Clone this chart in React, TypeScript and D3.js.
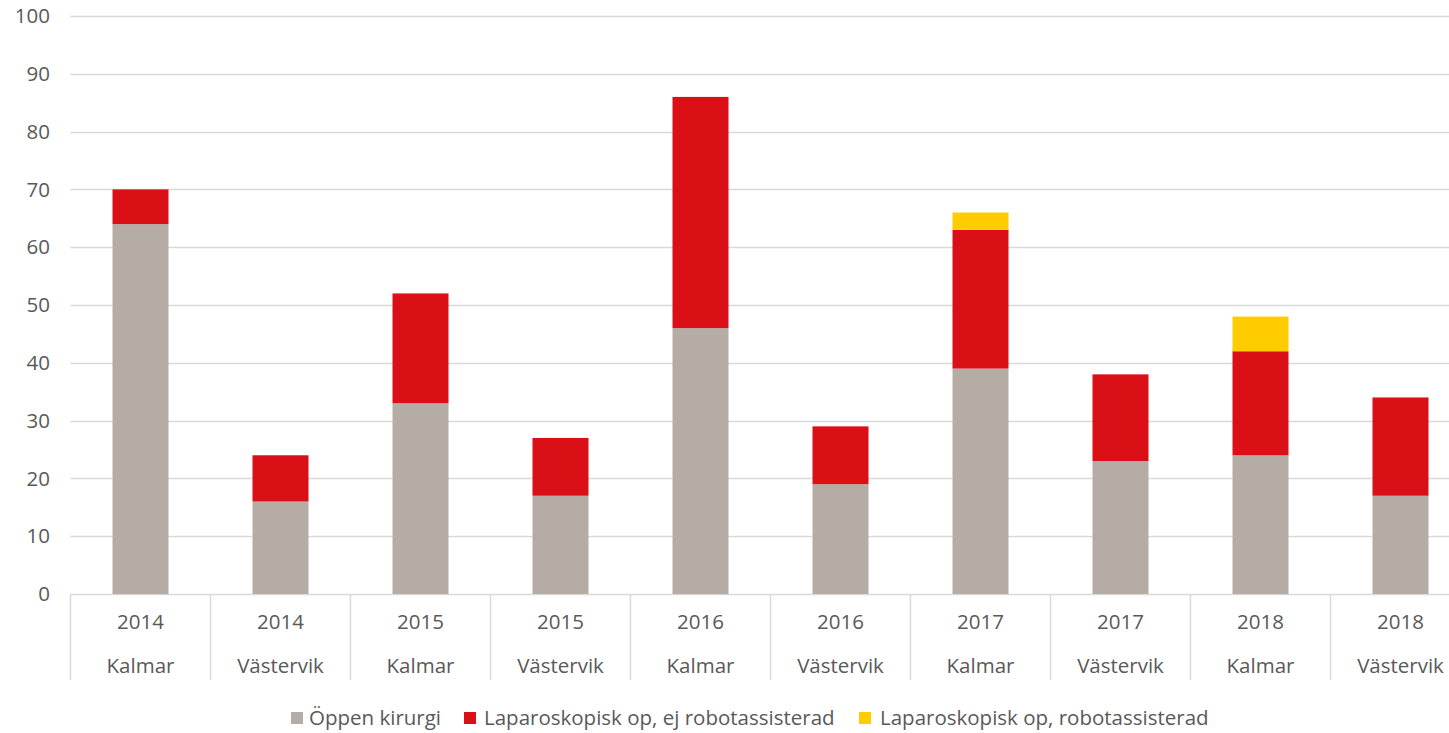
import React, { useEffect, useRef } from 'react';
import * as d3 from 'd3';

const years = ['2014', '2014', '2015', '2015', '2016', '2016', '2017', '2017', '2018', '2018'];
const sites = ['Kalmar', 'Västervik', 'Kalmar', 'Västervik', 'Kalmar', 'Västervik', 'Kalmar', 'Västervik', 'Kalmar', 'Västervik'];
const seriesNames = ['Öppen kirurgi', 'Laparoskopisk op, ej robotassisterad', 'Laparoskopisk op, robotassisterad'];
const oppen = [64, 16, 33, 17, 46, 19, 39, 23, 24, 17];
const lapEj = [6, 8, 19, 10, 40, 10, 24, 15, 18, 17];
const lapRobot = [0, 0, 0, 0, 0, 0, 3, 0, 6, 0];
const yTicks = [0, 10, 20, 30, 40, 50, 60, 70, 80, 90, 100];
const colors = ['#b5ada5', '#db0f16', '#ffcc00'];

const W = 1449;
const H = 733;

const App = () => {
  const ref = useRef<SVGSVGElement | null>(null);

  useEffect(() => {
    document.body.style.margin = '0';
    if (!ref.current) return;
    const svg = d3.select(ref.current);
    svg.selectAll('*').remove();

    const font = "'Open Sans', sans-serif";
    const fontSize = '20.5px';
    const textColor = '#595959';
    const left = 70.5;
    const bandW = 140;
    const keys = years.map((_, i) => String(i));

    // bar = 40% of each category slot
    const x = d3.scaleBand()
      .domain(keys)
      .range([left, left + bandW * keys.length])
      .paddingInner(0.6)
      .paddingOuter(0.3);
    const y = d3.scaleLinear().domain([0, 100]).range([594, 16]);

    // gridlines
    svg.append('g')
      .selectAll('line')
      .data(yTicks)
      .enter()
      .append('line')
      .attr('x1', left)
      .attr('x2', W)
      .attr('y1', d => Math.round(y(d)) + 0.5)
      .attr('y2', d => Math.round(y(d)) + 0.5)
      .attr('stroke', '#d9d9d9')
      .attr('stroke-width', 1.5);

    // y labels
    svg.append('g')
      .selectAll('text')
      .data(yTicks)
      .enter()
      .append('text')
      .attr('x', 50)
      .attr('y', d => y(d))
      .attr('dy', '0.35em')
      .attr('text-anchor', 'end')
      .style('font-family', font)
      .style('font-size', fontSize)
      .style('fill', textColor)
      .text(d => d);

    // stacked bars
    const rows = keys.map((k, i) => ({ key: k, s0: oppen[i], s1: lapEj[i], s2: lapRobot[i] }));
    const stacked = d3.stack<any>().keys(['s0', 's1', 's2'])(rows);

    svg.append('g')
      .selectAll('g')
      .data(stacked)
      .enter()
      .append('g')
      .attr('fill', (_, i) => colors[i])
      .selectAll('rect')
      .data(d => d)
      .enter()
      .append('rect')
      .attr('x', d => x(d.data.key) as number)
      .attr('width', x.bandwidth())
      .attr('y', d => y(d[1]))
      .attr('height', d => y(d[0]) - y(d[1]));

    // category dividers
    const dividers = d3.range(keys.length + 1).map(i => left + i * bandW);
    svg.append('g')
      .selectAll('line')
      .data(dividers)
      .enter()
      .append('line')
      .attr('x1', d => d)
      .attr('x2', d => d)
      .attr('y1', y(0))
      .attr('y2', 680)
      .attr('stroke', '#d9d9d9')
      .attr('stroke-width', 1.5);

    // x labels (two rows)
    const xl = svg.append('g')
      .selectAll('g')
      .data(keys)
      .enter()
      .append('g')
      .attr('transform', d => `translate(${(x(d) as number) + x.bandwidth() / 2},0)`);
    xl.append('text')
      .attr('y', 622)
      .attr('dy', '0.35em')
      .attr('text-anchor', 'middle')
      .style('font-family', font)
      .style('font-size', fontSize)
      .style('fill', textColor)
      .text((_, i) => years[i]);
    xl.append('text')
      .attr('y', 666)
      .attr('dy', '0.35em')
      .attr('text-anchor', 'middle')
      .style('font-family', font)
      .style('font-size', fontSize)
      .style('fill', textColor)
      .text((_, i) => sites[i]);

    // legend
    const swatchX = [291, 464, 859];
    const labelX = [309, 484, 880];
    const legend = svg.append('g').attr('transform', 'translate(0,718)');
    seriesNames.forEach((name, i) => {
      legend.append('rect')
        .attr('x', swatchX[i])
        .attr('y', -6)
        .attr('width', 12)
        .attr('height', 12)
        .attr('fill', colors[i]);
      legend.append('text')
        .attr('x', labelX[i])
        .attr('dy', '0.35em')
        .style('font-family', font)
        .style('font-size', fontSize)
        .style('fill', textColor)
        .text(name);
    });
  }, []);

  return <svg ref={ref} width={W} height={H} style={{ display: 'block' }} />;
};

export default App;
